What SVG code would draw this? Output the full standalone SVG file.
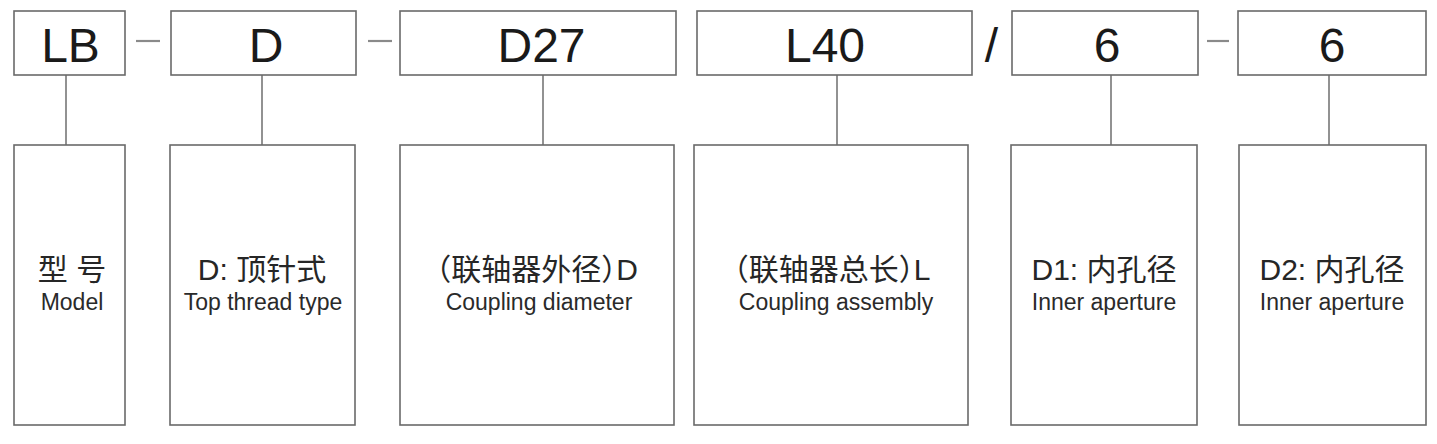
<svg xmlns="http://www.w3.org/2000/svg" width="1437" height="444" viewBox="0 0 1437 444">
<style>
.box{fill:#fff;stroke:#6a6a6a;stroke-width:1.6}
.code{font-family:"Liberation Sans",Arial,sans-serif;font-size:48px;fill:#1a1a1a;text-anchor:middle}
.zh{font-family:"Liberation Sans","Noto Sans CJK SC",sans-serif;font-size:30px;fill:#262626;text-anchor:middle;font-feature-settings:"halt"}
.en{font-family:"Liberation Sans",Arial,sans-serif;font-size:23px;fill:#2a2a2a;text-anchor:middle}
.conn line{stroke:#777;stroke-width:1.6}
.sep line{stroke:#8a8a8a;stroke-width:2.2}
</style>
<rect width="1437" height="444" fill="#fff"/>
<g id="connectors" class="conn">
<line x1="66" y1="75" x2="66" y2="145"/>
<line x1="262" y1="75" x2="262" y2="145"/>
<line x1="543" y1="75" x2="543" y2="145"/>
<line x1="837" y1="75" x2="837" y2="145"/>
<line x1="1111" y1="75" x2="1111" y2="145"/>
<line x1="1329" y1="75" x2="1329" y2="145"/>
</g>
<g id="separators" class="sep">
<line x1="136" y1="41" x2="160" y2="41"/>
<line x1="368" y1="41" x2="392" y2="41"/>
<line x1="1207" y1="41" x2="1229" y2="41"/>
</g>
<text id="slash" class="code" x="991.5" y="62">/</text>
<g id="code-LB"><rect class="box" x="14" y="11" width="111" height="64"/><text class="code" x="70.5" y="62">LB</text></g>
<g id="code-D"><rect class="box" x="171" y="11" width="185" height="64"/><text class="code" x="266" y="62">D</text></g>
<g id="code-D27"><rect class="box" x="400" y="11" width="276" height="64"/><text class="code" x="541.5" y="62">D27</text></g>
<g id="code-L40"><rect class="box" x="697" y="11" width="275" height="64"/><text class="code" x="825" y="62">L40</text></g>
<g id="code-6a"><rect class="box" x="1012" y="11" width="186" height="64"/><text class="code" x="1107" y="62">6</text></g>
<g id="code-6b"><rect class="box" x="1238" y="11" width="188" height="64"/><text class="code" x="1332" y="62">6</text></g>
<g id="desc-model"><rect class="box" x="14" y="145" width="111" height="280"/><text class="zh" x="72" y="280">型 号</text><text class="en" x="72" y="310">Model</text></g>
<g id="desc-top"><rect class="box" x="170" y="145" width="185" height="280"/><text class="zh" x="262" y="280">D: 顶针式</text><text class="en" x="263" y="310">Top thread type</text></g>
<g id="desc-coupling-d"><rect class="box" x="400" y="145" width="274" height="280"/><text class="zh" x="537" y="280">（联轴器外径）D</text><text class="en" x="539" y="310">Coupling diameter</text></g>
<g id="desc-coupling-l"><rect class="box" x="694" y="145" width="274" height="280"/><text class="zh" x="832" y="280">（联轴器总长）L</text><text class="en" x="836" y="310">Coupling assembly</text></g>
<g id="desc-d1"><rect class="box" x="1011" y="145" width="186" height="280"/><text class="zh" x="1104" y="280">D1: 内孔径</text><text class="en" x="1104" y="310">Inner aperture</text></g>
<g id="desc-d2"><rect class="box" x="1239" y="145" width="187" height="280"/><text class="zh" x="1332" y="280">D2: 内孔径</text><text class="en" x="1332" y="310">Inner aperture</text></g>
</svg>
